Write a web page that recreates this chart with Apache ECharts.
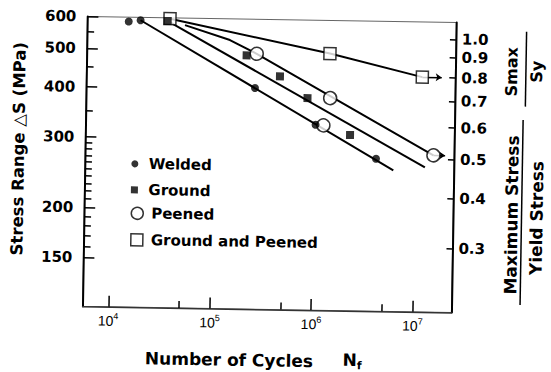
<!DOCTYPE html>
<html><head><meta charset="utf-8">
<script src="https://cdn.jsdelivr.net/npm/echarts@6/dist/echarts.min.js"></script>
<style>
html,body{margin:0;padding:0;background:#fff;overflow:hidden;width:551px;height:372px;}
#chart{width:551px;height:372px;transform:rotate(0.95deg);transform-origin:275.5px 186px;background:#fff;}
</style></head><body><div id="chart"></div>
<script>
// ---- data (cycles N, stress range MPa) ----
const welded = [[14300,585],[18700,590],[257000,404],[1030000,329],[4110000,272]];
const ground = [[34600,589],[210000,487],[451000,433],[849000,383],[2260000,311]];
const peened = [[264000,492],[1230000,328],[1420000,384],[15100000,279]];
const groundPeened = [[36400,597],[1390000,496],[11400000,437]];
const weldedLine = [[18700,590],[6110000,255]];
const groundLine = [[37300,583],[12500000,260]];
const peenedLine = [[51300,576],[143000,531],[264000,492],[15100000,279]];
const groundPeenedLine = [[36400,597],[1390000,496],[11400000,437]];
const runouts = [[[15100000,279],[19700000,279]],[[11400000,437],[17700000,437]]];
const xMajorTicks = [1e4,1e5,1e6,1e7];
const xMinorTicks = [5e4,5e5,5e6];
const yMajorTicks = [150,200,300,400,500,600];
const yMinorTicks = [160,170,180,190,210,220,230,240,250,260,270,280,290,350,450,550];
const ratioTicks = [0.3,0.4,0.5,0.6,0.7,0.8,0.9,1.0];
const ratioScale = 545;
const xRange = [5585, 24100000];
const yRange = [113.2, 600];

const lg = Math.log10;
const toLog = pts => pts.map(p => [lg(p[0]), lg(p[1])]);
const xMin = lg(xRange[0]), xMax = lg(xRange[1]);
const yMin = lg(yRange[0]), yMax = lg(yRange[1]);
const FONT = 'DejaVu Sans';
const gridBox = {left:84.6, right:97.5, top:19.6, bottom:62.5};

const chart = echarts.init(document.getElementById('chart'), null, {renderer:'svg'});
const tickStyle = {color:'#000', width:1.5};
const lineSeries = (name, pts) => ({name, type:'line', data: toLog(pts), symbol:'none', showSymbol:false,
  lineStyle:{color:'#000', width:2}, silent:true, z:2, animation:false});
const legendItem = (name, icon, size, top, fill) => ({
  data:[{name, icon}], left:131, top, padding:0, itemWidth:18, itemHeight:size, selectedMode:false,
  itemStyle: fill ? {color:'#000', borderWidth:0} : {color:'#fff', borderColor:'#000', borderWidth:1.5},
  textStyle:{fontFamily:FONT, fontWeight:'bold', fontSize:15, color:'#000'}
});
const sq = 'path://M0,0H10V10H0Z';

chart.setOption({
  animation:false,
  backgroundColor:'#fff',
  grid:[Object.assign({show:true, borderColor:'#666', borderWidth:1}, gridBox), Object.assign({show:false}, gridBox)],
  xAxis:[
    {gridIndex:0, type:'value', min:xMin, max:xMax, position:'bottom',
     axisLine:{show:true, onZero:false, lineStyle:{color:'#333', width:1.5}},
     axisTick:{show:true, inside:true, length:11, customValues:xMajorTicks.map(lg), lineStyle:tickStyle},
     axisLabel:{show:true, customValues:xMajorTicks.map(lg), margin:5,
       formatter: v => '{b|10}{s|' + Math.round(v) + '}',
       rich:{b:{fontFamily:'Liberation Sans', fontSize:14, color:'#000', verticalAlign:'bottom', lineHeight:16},
             s:{fontFamily:'Liberation Sans', fontSize:9, color:'#000', verticalAlign:'top', lineHeight:10}}},
     splitLine:{show:false}},
    {gridIndex:1, type:'value', min:xMin, max:xMax, position:'bottom',
     axisLine:{show:false}, axisTick:{show:true, inside:true, length:7, customValues:xMinorTicks.map(lg), lineStyle:tickStyle},
     axisLabel:{show:false}, splitLine:{show:false}}
  ],
  yAxis:[
    {gridIndex:0, type:'value', min:yMin, max:yMax, position:'left',
     axisLine:{show:true, onZero:false, lineStyle:{color:'#000', width:2}},
     axisTick:{show:true, inside:true, length:11, customValues:yMajorTicks.map(lg), lineStyle:tickStyle},
     axisLabel:{show:true, customValues:yMajorTicks.map(lg), margin:11,
       formatter: v => String(Math.round(Math.pow(10, v))),
       fontFamily:FONT, fontWeight:'bold', fontSize:15, color:'#000'},
     splitLine:{show:false}},
    {gridIndex:0, type:'value', min:yMin, max:yMax, position:'right',
     axisLine:{show:true, onZero:false, lineStyle:{color:'#000', width:2}},
     axisTick:{show:true, inside:true, length:6, customValues:ratioTicks.map(r => lg(r*ratioScale)), lineStyle:tickStyle},
     axisLabel:{show:true, customValues:ratioTicks.map(r => lg(r*ratioScale)), margin:6,
       formatter: v => (Math.pow(10, v)/ratioScale).toFixed(1),
       fontFamily:FONT, fontWeight:'bold', fontSize:15, color:'#000'},
     splitLine:{show:false}},
    {gridIndex:1, type:'value', min:yMin, max:yMax, position:'left',
     axisLine:{show:false}, axisTick:{show:true, inside:true, length:7, customValues:yMinorTicks.map(lg), lineStyle:tickStyle},
     axisLabel:{show:false}, splitLine:{show:false}}
  ],
  legend:[
    legendItem('Welded', 'circle', 7, 158.7, true),
    legendItem('Ground', sq, 7, 184.7, true),
    legendItem('Peened', 'circle', 12, 208.1, false),
    legendItem('Ground and Peened', sq, 12, 234.7, false)
  ],
  series:[
    lineSeries('weldedLine', weldedLine),
    lineSeries('groundLine', groundLine),
    lineSeries('peenedLine', peenedLine),
    lineSeries('groundPeenedLine', groundPeenedLine),
    {name:'runout', type:'lines', coordinateSystem:'cartesian2d', xAxisIndex:0, yAxisIndex:0,
     data: runouts.map(r => ({coords: toLog(r)})), symbol:['none','arrow'], symbolSize:6,
     lineStyle:{color:'#000', width:1.5, opacity:1}, z:2, silent:true},
    {name:'Peened', type:'scatter', data:toLog(peened), symbol:'circle', symbolSize:13,
     itemStyle:{color:'#fff', borderColor:'#000', borderWidth:1.5}, z:3},
    {name:'Ground and Peened', type:'scatter', data:toLog(groundPeened), symbol:'rect', symbolSize:12,
     itemStyle:{color:'#fff', borderColor:'#000', borderWidth:1.5}, z:3},
    {name:'Welded', type:'scatter', data:toLog(welded), symbol:'circle', symbolSize:8,
     itemStyle:{color:'#000'}, z:4},
    {name:'Ground', type:'scatter', data:toLog(ground), symbol:'rect', symbolSize:8,
     itemStyle:{color:'#000'}, z:4}
  ],
  graphic:[
    {type:'text', x:18, y:153, rotation:Math.PI/2,
     style:{text:'Stress Range \u25B3S (MPa)', font:'bold 16.5px "DejaVu Sans"', fill:'#000', align:'center', verticalAlign:'middle'}},
    {type:'text', x:231.9, y:360.5,
     style:{text:'Number of Cycles', font:'bold 17px "DejaVu Sans"', fill:'#000', align:'center', verticalAlign:'middle'}},
    {type:'text', x:345.5, y:360,
     style:{text:'{n|N}{f|f}', align:'left', verticalAlign:'middle',
       rich:{n:{fontFamily:FONT, fontWeight:'bold', fontSize:17, fill:'#000', color:'#000', verticalAlign:'top', lineHeight:20},
             f:{fontFamily:FONT, fontWeight:'bold', fontSize:11, color:'#000', verticalAlign:'bottom', lineHeight:16}}}},
    {type:'text', x:509.8, y:67.8, rotation:Math.PI/2,
     style:{text:'Smax', font:'bold 16px "DejaVu Sans"', fill:'#000', align:'center', verticalAlign:'middle'}},
    {type:'line', shape:{x1:524, y1:27.5, x2:524, y2:102.5}, style:{stroke:'#000', lineWidth:1.5}},
    {type:'text', x:534.8, y:67.4, rotation:Math.PI/2,
     style:{text:'Sy', font:'bold 16px "DejaVu Sans"', fill:'#000', align:'center', verticalAlign:'middle'}},
    {type:'text', x:512, y:211, rotation:Math.PI/2,
     style:{text:'Maximum Stress', font:'bold 17px "DejaVu Sans"', fill:'#000', align:'center', verticalAlign:'middle'}},
    {type:'line', shape:{x1:522, y1:116, x2:522, y2:301}, style:{stroke:'#000', lineWidth:1.5}},
    {type:'text', x:537, y:213.7, rotation:Math.PI/2,
     style:{text:'Yield Stress', font:'bold 17px "DejaVu Sans"', fill:'#000', align:'center', verticalAlign:'middle'}}
  ]
});
</script></body></html>
